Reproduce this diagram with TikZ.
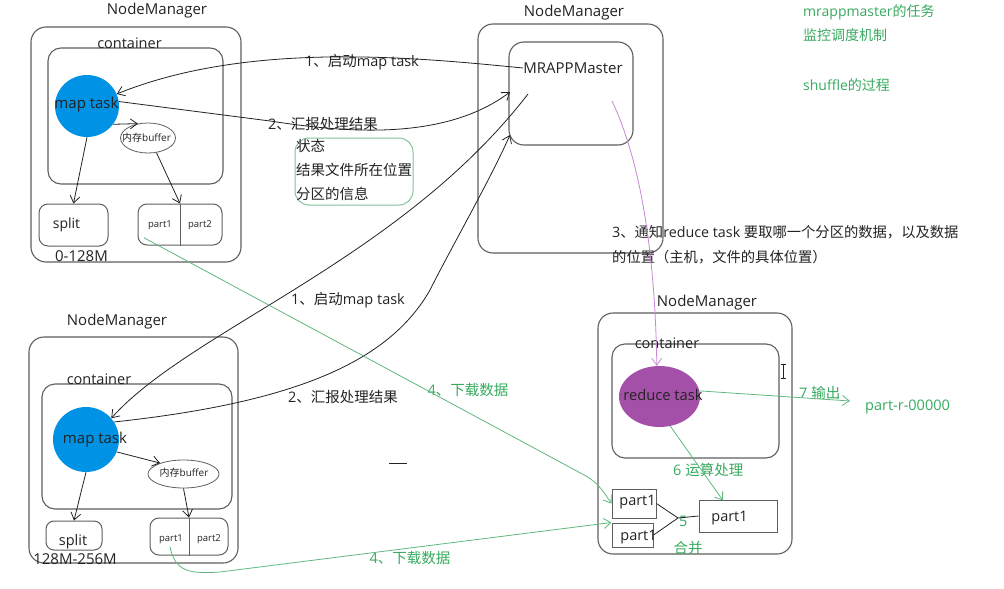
\documentclass[tikz,border=0pt]{standalone}
\usepackage{fontspec}
\setmainfont{Open Sans}
\newfontfamily\cjk{Noto Sans CJK SC}
\usetikzlibrary{arrows.meta,calc,shapes.geometric}

\definecolor{boxgray}{RGB}{95,95,95}
\definecolor{ink}{RGB}{35,35,35}
\definecolor{taskblue}{RGB}{0,146,228}
\definecolor{taskpurple}{RGB}{165,80,168}
\definecolor{linkviolet}{RGB}{200,135,215}
\definecolor{notegreen}{RGB}{55,170,95}
\definecolor{linkgreen}{RGB}{95,185,125}
\definecolor{framegreen}{RGB}{130,195,155}

\newcommand{\fsz}[1]{\fontsize{#1}{#1}\selectfont}

\tikzset{
  outerbox/.style={draw=boxgray, line width=1.1pt, rounded corners=15pt, inner sep=0pt},
  innerbox/.style={draw=boxgray, line width=1.1pt, rounded corners=13pt, inner sep=0pt},
  slotbox/.style={draw=boxgray, line width=1pt, rounded corners=9pt, inner sep=0pt},
  plainbox/.style={draw=boxgray, line width=1pt, inner sep=0pt},
  notebox/.style={draw=framegreen, line width=1pt, rounded corners=14pt, inner sep=0pt},
  maptask/.style={ellipse, fill=taskblue, inner sep=0pt},
  reducetask/.style={ellipse, fill=taskpurple, inner sep=0pt},
  buffer/.style={ellipse, draw=boxgray, line width=0.8pt, inner sep=0pt},
  lbl/.style={text=ink, inner sep=0pt, font=\fsz{15}},
  small/.style={text=ink, inner sep=0pt, font=\fsz{9.5}},
  note/.style={text=notegreen, inner sep=0pt, font=\fsz{14.5}},
  link/.style={draw=ink, line width=0.8pt},
  arr/.style={link, -{Straight Barb[length=7pt,width=10pt]}},
  garr/.style={draw=linkgreen, line width=0.8pt, -{Straight Barb[length=7pt,width=10pt]}},
  parr/.style={draw=linkviolet, line width=0.8pt, -{Straight Barb[length=7pt,width=10pt]}},
}

\begin{document}
\begin{tikzpicture}[x=1pt, y=-1pt]
\useasboundingbox (0,0) rectangle (1004,589);
\fill[white] (0,0) rectangle (1004,589);

% ---------- first map node ----------
\node[lbl] (nmt1) at (157,11) {NodeManager};
\node[outerbox, minimum width=210pt, minimum height=235pt] (nm1) at (136,144.5) {};
\node[innerbox, minimum width=175pt, minimum height=136pt] (ct1) at (135.5,116) {};
\node[lbl, font=\fsz{14.5}] (ctl1) at (129.5,43) {container};
\node[maptask, minimum width=64pt, minimum height=62pt] (mt1) at (87,106) {};
\node[lbl] (mtl1) at (86.5,105) {map task};
\node[buffer, minimum width=55pt, minimum height=30pt] (bf1) at (148,138) {};
\node[small, font=\fsz{10}] (bfl1) at (146.5,138) {{\cjk 内存}buffer};
\node[slotbox, minimum width=69pt, minimum height=42pt] (sp1) at (73.5,225) {};
\node[lbl, font=\fsz{14}] (spl1) at (66.5,225) {split};
\node[slotbox, minimum width=84pt, minimum height=41pt] (pt1) at (180,224.5) {};
\draw[boxgray, line width=1pt] (pt1.north) -- (pt1.south);
\node[small] (p1a) at (160,225) {part1};
\node[small] (p1b) at (200,225) {part2};
\node[lbl] (rg1) at (81.5,256) {0-128M};

% ---------- application master node ----------
\node[lbl] (nmt2) at (574,13) {NodeManager};
\node[outerbox, minimum width=185pt, minimum height=229pt] (nm2) at (570.5,138.5) {};
\node[innerbox, minimum width=124pt, minimum height=103pt, rounded corners=15pt] (am) at (571,93.5) {};
\node[lbl] (mpm) at (573,68) {MRAPPMaster};

% ---------- second map node ----------
\node[lbl] (nmt3) at (117,322) {NodeManager};
\node[outerbox, minimum width=209pt, minimum height=226pt] (nm3) at (133.5,450) {};
\node[innerbox, minimum width=190pt, minimum height=125pt] (ct3) at (137,446.5) {};
\node[lbl, font=\fsz{14.5}] (ctl3) at (99,379) {container};
\node[maptask, minimum width=66pt, minimum height=65pt] (mt3) at (86,439.5) {};
\node[lbl] (mtl3) at (95,440) {map task};
\node[buffer, minimum width=71pt, minimum height=28pt] (bf3) at (183.5,474) {};
\node[small, font=\fsz{10}] (bfl3) at (184,473) {{\cjk 内存}buffer};
\node[slotbox, minimum width=56pt, minimum height=29pt, rounded corners=8pt] (sp3) at (74,535.5) {};
\node[lbl, font=\fsz{14.5}] (spl3) at (73,542) {split};
\node[slotbox, minimum width=78pt, minimum height=37pt] (pt3) at (189,536.5) {};
\draw[boxgray, line width=1pt] (pt3.north) -- (pt3.south);
\node[small] (p3a) at (171,539) {part1};
\node[small] (p3b) at (209,539) {part2};
\node[lbl] (rg3) at (75,559) {128M-256M};

% ---------- reduce node ----------
\node[lbl] (nmt4) at (707,303) {NodeManager};
\node[outerbox, minimum width=194pt, minimum height=241pt] (nm4) at (695,433.5) {};
\node[innerbox, minimum width=167pt, minimum height=114pt] (ct4) at (695.5,401) {};
\node[lbl, font=\fsz{14.5}] (ctl4) at (667,343) {container};
\node[reducetask, minimum width=81pt, minimum height=61pt] (rt) at (659.5,396.5) {};
\node[lbl, font=\fsz{14.7}] (rtl) at (663,395) {reduce task};
\node[plainbox, minimum width=44pt, minimum height=29pt] (pa) at (634,503.5) {};
\node[plainbox, minimum width=41pt, minimum height=24pt] (pb) at (632.5,535) {};
\node[plainbox, minimum width=78pt, minimum height=32pt] (pc) at (738,516) {};
\node[lbl, font=\fsz{14.5}] (pal) at (637.5,502) {part1};
\node[lbl, font=\fsz{14.5}] (pbl) at (638.5,537) {part1};
\node[lbl, font=\fsz{14.5}] (pcl) at (729.5,518) {part1};

% text cursor
\draw[ink, line width=0.7pt] (783,364) -- (783,378) (780.5,364) -- (785.5,364) (780.5,378) -- (785.5,378);
% short stroke
\draw[ink, line width=0.8pt] (389,463) -- (407,463);

% ---------- report contents ----------
\node[notebox, minimum width=118pt, minimum height=67pt] (rep) at (354,171.5) {};
\node[lbl, font=\fsz{14.5}, anchor=west] (rep1) at (296,146) {\cjk 状态};
\node[lbl, font=\fsz{14.5}, anchor=west] (rep2) at (296,170) {\cjk 结果文件所在位置};
\node[lbl, font=\fsz{14.5}, anchor=west] (rep3) at (296,194) {\cjk 分区的信息};

% ---------- side notes ----------
\node[note, font=\fsz{14}, anchor=west] (n1) at (803,12) {mrappmaster{\cjk 的任务}};
\node[note, font=\fsz{14}, anchor=west] (n2) at (803,35) {\cjk 监控调度机制};
\node[note, font=\fsz{14}, anchor=west] (n3) at (803,85) {shuffle{\cjk 的过程}};

% ---------- step labels ----------
\node[lbl, font=\fsz{14.5}] (s1a) at (362,62) {1{\cjk 、启动}map task};
\node[lbl, font=\fsz{14.5}] (s2a) at (323,124) {2{\cjk 、汇报处理结果}};
\node[lbl, font=\fsz{14.5}] (s1b) at (348,300) {1{\cjk 、启动}map task};
\node[lbl, font=\fsz{14.5}] (s2b) at (343,397) {2{\cjk 、汇报处理结果}};
\node[lbl, font=\fsz{14.3}, anchor=west] (s3a) at (612,232) {3{\cjk 、通知}reduce task {\cjk 要取哪一个分区的数据，以及数据}};
\node[lbl, font=\fsz{14.3}, anchor=west] (s3b) at (612,257) {\cjk 的位置（主机，文件的具体位置）};
\node[note] (s4a) at (468,390) {4{\cjk 、下载数据}};
\node[note] (s4b) at (410,558) {4{\cjk 、下载数据}};
\node[note, anchor=west] (s5) at (679,521) {5};
\node[note] (s5m) at (688,548) {\cjk 合并};
\node[note, anchor=west] (s6) at (673,470) {6 {\cjk 运算处理}};
\node[note, anchor=west] (s7) at (799,393) {7 {\cjk 输出}};
\node[note, anchor=west] (out) at (865,407) {part-r-00000};

% ---------- connectors ----------
\coordinate (in2a) at (510,92);
\coordinate (in2b) at (510,135);
\coordinate (out1b) at (528,94);
\coordinate (pstart) at (612,101);
\coordinate (mg) at (678,518);
\coordinate (o7end) at (850,401);

% inside the map nodes
\draw[arr] (mt1.south) -- (sp1.north);
\draw[arr] (mt1.-35) -- (bf1.125);
\draw[arr] (bf1.-60) -- (pt1.north);
\draw[arr] (mt3.south) -- (sp3.north);
\draw[arr] (mt3.-22) -- (bf3.155);
\draw[arr] (bf3.south) -- (pt3.north);

% master <-> map tasks
\draw[arr] (mpm.west) .. controls (420,58) and (250,40) .. (mt1.22);
\draw[arr] (mt1.8) -- (270,121) .. controls (330,130) and (440,145) .. (in2a);
\draw[arr] (out1b) .. controls (400,260) and (190,330) .. (mt3.40);
\draw[arr] (mt3.32) .. controls (300,402) and (390,360) .. (430,290) .. controls (450,250) and (490,180) .. (in2b);

% master -> reduce task
\draw[parr] (pstart) .. controls (640,160) and (655,250) .. (rt.95);

% downloads
\draw[garr] ($(p1a.south west)+(-4,8)$) -- (586,476) to[out=-30,in=125] (pa.west);
\draw[garr] ($(p3a.south)+(-1,3)$) .. controls (175,572) and (190,574) .. (220,572) -- (pb.north west);

% merge, compute, output
\draw[link] (pa.east) -- (mg);
\draw[link] (pb.east) -- (mg);
\draw[link] (mg) -- (pc.west);
\draw[garr] (rt.-70) -- ($(pc.north)+(-15,1)$);
\draw[garr] (rt.8) -- (o7end);
\end{tikzpicture}
\end{document}
